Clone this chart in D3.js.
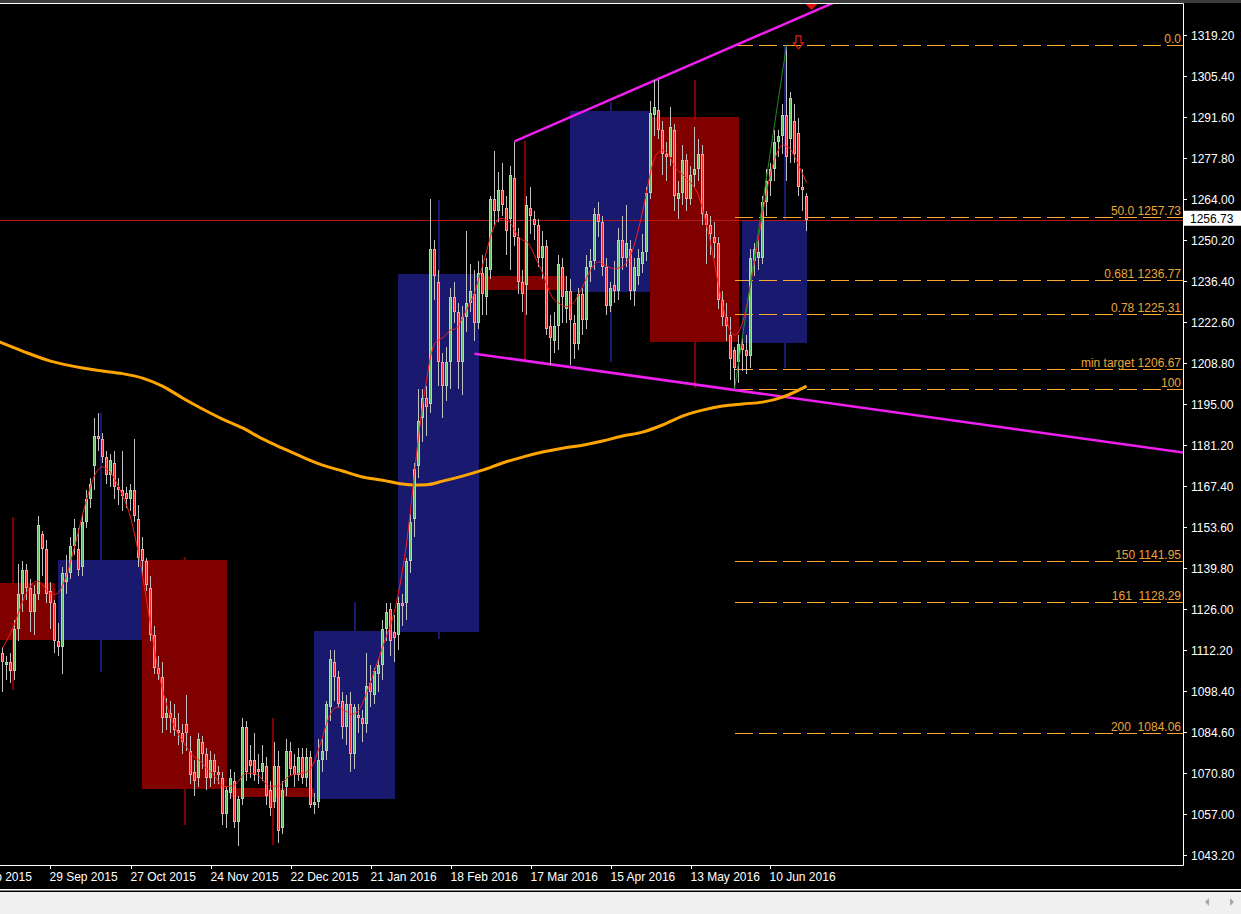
<!DOCTYPE html>
<html><head><meta charset="utf-8">
<script src="https://cdn.jsdelivr.net/npm/d3@7"></script>
<style>body{margin:0;background:#000;overflow:hidden}svg{display:block}text{font-family:"Liberation Sans",Arial,sans-serif;white-space:pre}</style>
</head><body>
<svg id="c" width="1241" height="914"></svg>
<script>
// ---------- DATA ----------
// daily XAUUSD bars: [date, open, high, low, close]
const dailyBars = [
["2015-09-11",1111,1113,1098,1108],["2015-09-14",1107,1110,1102,1108],["2015-09-15",1108,1111,1101,1105],
["2015-09-16",1105,1122,1102,1119],["2015-09-17",1119,1141,1115,1131],["2015-09-18",1131,1142,1125,1139],
["2015-09-21",1139,1141,1129,1133],["2015-09-22",1133,1136,1118,1125],["2015-09-23",1125,1134,1117,1131],
["2015-09-24",1131,1157,1129,1154],["2015-09-25",1151,1152,1137,1146],["2015-09-28",1146,1149,1128,1131],
["2015-09-29",1132,1135,1119,1128],["2015-09-30",1128,1129,1111,1115],
["2015-10-01",1115,1121,1110,1113],["2015-10-02",1113,1140,1104,1138],["2015-10-05",1135,1144,1131,1138],
["2015-10-06",1138,1150,1136,1147],["2015-10-07",1147,1156,1144,1153],["2015-10-08",1146,1153,1137,1139],
["2015-10-09",1140,1158,1137,1155],["2015-10-12",1155,1166,1153,1163],["2015-10-13",1163,1170,1160,1168],
["2015-10-14",1174,1190,1166,1184],["2015-10-15",1184,1192,1179,1183],["2015-10-16",1183,1185,1175,1177],
["2015-10-19",1177,1179,1168,1171],["2015-10-20",1171,1178,1167,1176],["2015-10-21",1175,1179,1163,1167],
["2015-10-22",1167,1170,1161,1166],["2015-10-23",1166,1179,1159,1164],["2015-10-26",1165,1167,1160,1163],
["2015-10-27",1163,1168,1159,1166],["2015-10-28",1166,1183,1155,1157],["2015-10-29",1156,1161,1140,1143],
["2015-10-30",1146,1150,1137,1142],
["2015-11-02",1142,1143,1132,1134],["2015-11-03",1133,1137,1115,1117],["2015-11-04",1117,1120,1104,1106],
["2015-11-05",1106,1110,1102,1104],["2015-11-06",1103,1108,1084,1089],["2015-11-09",1089,1096,1085,1091],
["2015-11-10",1091,1095,1084,1089],["2015-11-11",1089,1094,1083,1085],["2015-11-12",1085,1091,1080,1084],
["2015-11-13",1084,1087,1077,1081],["2015-11-16",1087,1097,1078,1084],["2015-11-17",1078,1083,1067,1070],
["2015-11-18",1071,1075,1063,1068],["2015-11-19",1069,1084,1066,1082],["2015-11-20",1081,1083,1072,1077],
["2015-11-23",1077,1079,1065,1069],["2015-11-24",1069,1078,1066,1075],["2015-11-25",1075,1077,1067,1071],
["2015-11-26",1071,1073,1067,1070],["2015-11-27",1069,1071,1053,1057],["2015-11-30",1057,1066,1052,1065],
["2015-12-01",1064,1072,1062,1069],["2015-12-02",1068,1071,1052,1054],["2015-12-03",1054,1063,1046,1062],
["2015-12-04",1062,1089,1060,1086],["2015-12-07",1086,1088,1068,1071],["2015-12-08",1075,1080,1069,1073],
["2015-12-09",1075,1084,1068,1070],["2015-12-10",1072,1077,1067,1071],["2015-12-11",1071,1080,1068,1074],
["2015-12-14",1073,1076,1060,1063],["2015-12-15",1065,1068,1056,1059],["2015-12-16",1061,1081,1059,1073],
["2015-12-17",1073,1078,1047,1051],["2015-12-18",1052,1068,1050,1065],["2015-12-21",1066,1082,1063,1078],
["2015-12-22",1078,1081,1070,1072],["2015-12-23",1073,1077,1066,1070],["2015-12-24",1070,1079,1068,1076],
["2015-12-28",1076,1079,1067,1069],["2015-12-29",1069,1079,1066,1076],["2015-12-30",1076,1078,1059,1060],
["2015-12-31",1060,1064,1057,1061],
["2016-01-04",1061,1082,1059,1075],["2016-01-05",1075,1082,1071,1078],["2016-01-06",1078,1095,1075,1094],
["2016-01-07",1093,1112,1088,1109],["2016-01-08",1108,1112,1095,1103],["2016-01-11",1103,1105,1093,1094],
["2016-01-12",1095,1098,1082,1086],["2016-01-13",1086,1097,1080,1094],["2016-01-14",1094,1098,1071,1077],
["2016-01-15",1077,1094,1072,1093],["2016-01-18",1090,1094,1084,1089],["2016-01-19",1089,1092,1081,1087],
["2016-01-20",1087,1111,1084,1100],["2016-01-21",1101,1107,1093,1098],["2016-01-22",1097,1106,1094,1105],
["2016-01-25",1104,1109,1098,1107],["2016-01-26",1107,1122,1102,1119],["2016-01-27",1119,1128,1115,1125],
["2016-01-28",1126,1128,1110,1115],["2016-01-29",1118,1124,1108,1116],
["2016-02-01",1117,1130,1112,1128],["2016-02-02",1128,1131,1120,1127],["2016-02-03",1128,1143,1122,1142],
["2016-02-04",1142,1158,1138,1155],["2016-02-05",1156,1175,1150,1173],["2016-02-08",1174,1200,1170,1189],
["2016-02-09",1190,1200,1182,1197],["2016-02-10",1197,1201,1184,1194],["2016-02-11",1195,1264,1192,1247],
["2016-02-12",1247,1250,1230,1238],["2016-02-15",1236,1240,1201,1209],["2016-02-16",1209,1212,1190,1201],
["2016-02-17",1201,1214,1196,1209],["2016-02-18",1209,1234,1200,1231],["2016-02-19",1231,1236,1222,1226],
["2016-02-22",1226,1229,1200,1209],["2016-02-23",1209,1228,1198,1224],["2016-02-24",1224,1253,1219,1229],
["2016-02-25",1229,1242,1226,1233],["2016-02-26",1232,1240,1216,1222],["2016-02-29",1222,1243,1220,1239],
["2016-03-01",1239,1245,1225,1232],["2016-03-02",1231,1244,1225,1241],["2016-03-03",1240,1265,1237,1264],
["2016-03-04",1264,1280,1255,1260],["2016-03-07",1260,1273,1256,1267],["2016-03-08",1267,1276,1258,1262],
["2016-03-09",1261,1265,1245,1253],["2016-03-10",1257,1275,1240,1272],["2016-03-11",1271,1283,1248,1251],
["2016-03-14",1251,1254,1232,1236],["2016-03-15",1236,1240,1226,1232],["2016-03-16",1235,1265,1225,1262],
["2016-03-17",1261,1268,1252,1258],["2016-03-18",1257,1260,1250,1255],["2016-03-21",1255,1257,1241,1244],
["2016-03-22",1244,1253,1237,1248],["2016-03-23",1248,1250,1218,1220],["2016-03-24",1221,1225,1208,1217],
["2016-03-28",1216,1226,1212,1221],["2016-03-29",1221,1245,1213,1242],["2016-03-30",1241,1244,1222,1231],
["2016-03-31",1227,1238,1222,1233],
["2016-04-01",1233,1237,1208,1223],["2016-04-04",1222,1225,1210,1215],["2016-04-05",1215,1234,1213,1232],
["2016-04-06",1232,1234,1218,1223],["2016-04-07",1223,1245,1220,1241],["2016-04-08",1241,1247,1236,1243],
["2016-04-11",1243,1261,1240,1259],["2016-04-12",1259,1263,1251,1256],["2016-04-13",1256,1258,1238,1241],
["2016-04-14",1241,1244,1225,1228],["2016-04-15",1228,1236,1226,1234],["2016-04-18",1235,1243,1229,1233],
["2016-04-19",1233,1254,1230,1250],["2016-04-20",1250,1258,1240,1244],["2016-04-21",1244,1262,1241,1249],
["2016-04-22",1247,1250,1230,1233],["2016-04-25",1233,1244,1228,1241],["2016-04-26",1238,1247,1235,1244],
["2016-04-27",1242,1252,1239,1246],["2016-04-28",1246,1268,1243,1266],["2016-04-29",1266,1297,1264,1293],
["2016-05-02",1292,1304,1285,1295],["2016-05-03",1294,1304,1284,1287],["2016-05-04",1287,1290,1272,1279],
["2016-05-05",1279,1283,1270,1278],["2016-05-06",1278,1295,1275,1288],["2016-05-09",1287,1289,1260,1265],
["2016-05-10",1264,1270,1257,1266],["2016-05-11",1266,1282,1262,1277],["2016-05-12",1277,1279,1260,1264],
["2016-05-13",1264,1275,1262,1272],["2016-05-16",1272,1288,1268,1274],["2016-05-17",1274,1284,1270,1279],
["2016-05-18",1279,1282,1255,1259],["2016-05-19",1259,1260,1242,1255],["2016-05-20",1255,1258,1245,1252],
["2016-05-23",1251,1256,1244,1249],["2016-05-24",1249,1251,1227,1230],["2016-05-25",1230,1233,1221,1224],
["2016-05-26",1224,1229,1216,1221],["2016-05-27",1218,1224,1203,1210],["2016-05-30",1213,1214,1200,1207],
["2016-05-31",1209,1218,1202,1215],
["2016-06-01",1215,1217,1206,1213],["2016-06-02",1213,1218,1205,1211],["2016-06-03",1211,1247,1207,1244],
["2016-06-06",1243,1249,1238,1247],["2016-06-07",1244,1250,1240,1246],["2016-06-08",1244,1265,1242,1263],
["2016-06-09",1263,1274,1258,1270],["2016-06-10",1270,1276,1265,1274],["2016-06-13",1274,1287,1270,1283],
["2016-06-14",1283,1287,1278,1285],["2016-06-15",1285,1296,1279,1292],["2016-06-16",1292,1315.6,1270,1278],
["2016-06-17",1284,1300,1276,1298],["2016-06-20",1290,1296,1276,1279],["2016-06-21",1286,1291,1265,1268],
["2016-06-22",1268,1274,1260,1267],["2016-06-23",1265,1266,1253,1256.73]
];
// monthly candles: [month, first bar date, last bar date, month end date, open, high, low, close]
const monthlyBars = [
["2015-09","2015-09-01","2015-09-30","2015-09-30",1134.6,1156.8,1098.5,1115.4],
["2015-10","2015-10-01","2015-10-30","2015-10-30",1115.4,1192.0,1104.6,1142.3],
["2015-11","2015-10-30","2015-11-30","2015-11-30",1142.3,1143.5,1053.0,1065.2],
["2015-12","2015-12-01","2015-12-31","2015-12-31",1065.6,1089.1,1046.3,1062.5],
["2016-01","2015-12-31","2016-01-29","2016-01-29",1061.8,1128.3,1071.0,1118.4],
["2016-02","2016-02-01","2016-02-29","2016-02-29",1118.0,1263.6,1115.6,1238.7],
["2016-03","2016-03-01","2016-03-31","2016-03-31",1237.9,1283.3,1209.7,1233.2],
["2016-04","2016-04-01","2016-04-29","2016-04-29",1232.7,1296.7,1209.1,1293.4],
["2016-05","2016-04-29","2016-05-31","2016-05-31",1291.5,1304.0,1200.2,1215.9],
["2016-06","2016-06-01","2016-06-23","2016-06-30",1215.3,1315.8,1206.9,1256.73]
];
// 200-period moving average
const ma200Samples = [
["2015-09-10",1215.9],["2015-09-18",1212.7],["2015-09-29",1209.3],["2015-10-09",1207.0],["2015-10-16",1206.0],
["2015-10-23",1205.1],["2015-10-30",1203.6],["2015-11-06",1200.9],["2015-11-13",1196.9],["2015-11-20",1193.2],
["2015-11-27",1189.8],["2015-12-04",1186.8],["2015-12-11",1183.1],["2015-12-18",1180.0],["2015-12-28",1177.0],
["2016-01-05",1174.3],["2016-01-12",1172.3],["2016-01-19",1170.3],["2016-01-26",1169.2],["2016-02-02",1167.9],
["2016-02-05",1167.6],["2016-02-10",1167.7],["2016-02-16",1168.9],["2016-02-23",1170.6],["2016-03-01",1172.6],
["2016-03-08",1175.0],["2016-03-15",1177.0],["2016-03-22",1178.7],["2016-03-30",1180.0],["2016-04-06",1181.0],
["2016-04-13",1182.4],["2016-04-20",1184.1],["2016-04-27",1185.4],["2016-05-04",1187.8],["2016-05-11",1190.8],
["2016-05-18",1192.8],["2016-05-25",1194.2],["2016-06-01",1194.9],["2016-06-08",1195.5],["2016-06-15",1197.2],
["2016-06-20",1198.9],["2016-06-23",1200.9]
];
const priceTicks = [1043.20,1057.00,1070.80,1084.60,1098.40,1112.20,1126.00,1139.80,1153.60,1167.40,1181.20,
  1195.00,1208.80,1222.60,1236.40,1250.20,1264.00,1277.80,1291.60,1305.40,1319.20];
const dateTicks = [["2015-09-01","1 Sep 2015"],["2015-09-29","29 Sep 2015"],["2015-10-27","27 Oct 2015"],
  ["2015-11-24","24 Nov 2015"],["2015-12-22","22 Dec 2015"],["2016-01-21","21 Jan 2016"],["2016-02-18","18 Feb 2016"],
  ["2016-03-17","17 Mar 2016"],["2016-04-15","15 Apr 2016"],["2016-05-13","13 May 2016"],["2016-06-10","10 Jun 2016"]];
const fibLevels = [
  ["0.0",1315.62],["50.0 1257.73",1257.73],["0.681 1236.77",1236.77],["0.78 1225.31",1225.31],
  ["min target 1206.67",1206.67],["100",1199.84],["150 1141.95",1141.95],["161  1128.29",1128.29],["200  1084.06",1084.06]];
const fibAnchor = [["2016-05-30",1199.84],["2016-06-16",1315.62]];
const upperTrend = [["2016-03-11",1283.3],["2016-06-23",1326.0]];
const lowerTrend = [["2016-02-26",1211.8],["2016-06-23",1196.2]];
const currentPrice = 1256.73;
const signalArrow = ["2016-06-21",1318.8];

// ---------- SETUP ----------
const W = 1241, H = 914, PR = 1183, PB = 865, PT = 3;
const idxByDate = new Map(dailyBars.map((d,i)=>[d[0],i]));
function dateIndex(s){
  if (idxByDate.has(s)) return idxByDate.get(s);
  const t = Date.parse(s+"T00:00:00Z");
  const first = Date.parse(dailyBars[0][0]+"T00:00:00Z");
  const last = Date.parse(dailyBars[dailyBars.length-1][0]+"T00:00:00Z");
  let cur, idx, step;
  if (t < first){cur=first; idx=0; step=-1;} else {cur=last; idx=dailyBars.length-1; step=1;}
  while ((step<0 && cur>t) || (step>0 && cur<t)){
    cur += step*86400000; const wd = new Date(cur).getUTCDay();
    if (wd!==0 && wd!==6) idx += step;
  }
  return idx;
}
const x = d3.scaleLinear().domain([0, dailyBars.length-1]).range([2.5, 2.5+4*(dailyBars.length-1)]);
const y = d3.scaleLinear().domain([1043.2, 1319.2]).range([854.5, 34.7]);
const xd = s => x(dateIndex(s));

const svg = d3.select("#c");
svg.append("rect").attr("width",W).attr("height",H).attr("fill","#000");
svg.append("rect").attr("width",W).attr("height",3).attr("fill","#3c3c3c");
svg.append("defs").append("clipPath").attr("id","clip").append("rect")
  .attr("x",0).attr("y",PT+1).attr("width",PR).attr("height",PB-PT-1);
const g = svg.append("g").attr("clip-path","url(#clip)");

// monthly candles
const mg = g.append("g").attr("shape-rendering","crispEdges");
monthlyBars.forEach(m=>{
  const [lab,f,l,e,o,h,lo,c] = m;
  const col = c>=o ? "#191970" : "#800000";
  const xm = (xd(f)+xd(e))/2;
  mg.append("rect").attr("x",Math.round(xm)-1).attr("width",2).attr("y",y(h)).attr("height",y(lo)-y(h)).attr("fill",col);
  const x0 = xd(f)-0.5, x1 = xd(l)+0.5;
  mg.append("rect").attr("x",x0).attr("width",x1-x0).attr("y",y(Math.max(o,c)))
    .attr("height",Math.max(1,Math.abs(y(o)-y(c)))).attr("fill",col);
});

// current price line
g.append("line").attr("x1",0).attr("x2",PR).attr("y1",Math.round(y(currentPrice))+0.5).attr("y2",Math.round(y(currentPrice))+0.5)
  .attr("stroke","#c01414").attr("stroke-width",1).attr("shape-rendering","crispEdges");

// fib levels
const fx0 = xd(fibAnchor[0][0]);
fibLevels.forEach(([lab,v])=>{
  const yy = Math.round(y(v))+0.5;
  g.append("line").attr("x1",fx0).attr("x2",PR).attr("y1",yy).attr("y2",yy)
    .attr("stroke","#ffa630").attr("stroke-width",1).attr("stroke-dasharray","18,6").attr("shape-rendering","crispEdges");
  svg.append("text").attr("x",1181).attr("y",yy-2.5).attr("text-anchor","end").attr("font-size",12)
    .attr("fill","#eba43a").text(lab);
});

// trend lines (rays)
function ray(pts){
  const x1=xd(pts[0][0]), y1=y(pts[0][1]), x2=xd(pts[1][0]), y2=y(pts[1][1]);
  const k=(y2-y1)/(x2-x1);
  g.append("line").attr("x1",x1).attr("y1",y1).attr("x2",PR+10).attr("y2",y1+k*(PR+10-x1))
    .attr("stroke","#f01ef0").attr("stroke-width",2.5);
}
ray(upperTrend); ray(lowerTrend);

// MA200
g.append("path").datum(ma200Samples).attr("fill","none").attr("stroke","#ffa500").attr("stroke-width",3)
  .attr("d", d3.line().x(d=>xd(d[0])).y(d=>y(d[1])).curve(d3.curveMonotoneX));

// daily candles
const cg = g.append("g").attr("shape-rendering","crispEdges");
dailyBars.forEach((d,i)=>{
  const [dt,o,h,l,c] = d; const cx = x(i); const bull = c>=o;
  cg.append("line").attr("x1",cx).attr("x2",cx).attr("y1",y(h)).attr("y2",y(l)).attr("stroke","#c0c0c0");
  const top = Math.round(y(Math.max(o,c))), bot = Math.round(y(Math.min(o,c)));
  const hh = Math.max(1, bot-top);
  cg.append("rect").attr("x",cx-1.5).attr("width",3).attr("y",top).attr("height",hh)
    .attr("fill", bull ? "#b4d6b4" : "#f2a6a6");
  if (hh>2) cg.append("rect").attr("x",cx-0.5).attr("width",1).attr("y",top+1).attr("height",hh-2)
    .attr("fill", bull ? "#62b862" : "#ee2c2c");
});

// centered triangular MA of closes (indicator)
const closes = dailyBars.map(d=>d[4]); const half = 5;
const tma = closes.map((_,i)=>{let s=0,w=0;for(let k=-half;k<=half;k++){const j=i+k;if(j<0||j>=closes.length)continue;const wt=half+1-Math.abs(k);s+=closes[j]*wt;w+=wt;}return s/w;});
g.append("path").datum(tma).attr("fill","none").attr("stroke","#ff1e1e").attr("stroke-width",1)
  .attr("d", d3.line().x((d,i)=>x(i)).y(d=>y(d)).curve(d3.curveMonotoneX));

// fib anchor line
g.append("line").attr("x1",xd(fibAnchor[0][0])).attr("y1",y(fibAnchor[0][1]))
  .attr("x2",xd(fibAnchor[1][0])).attr("y2",y(fibAnchor[1][1])).attr("stroke","#1f8a1f").attr("stroke-width",1);

// signal arrow (hollow down arrow)
{
  const ax = xd(signalArrow[0]), ay = y(signalArrow[1]);
  const p = `M${ax-2.5},${ay} L${ax+2.5},${ay} L${ax+2.5},${ay+7} L${ax+5},${ay+7} L${ax},${ay+13} L${ax-5},${ay+7} L${ax-2.5},${ay+7} Z`;
  g.append("path").attr("d",p).attr("fill","none").attr("stroke","#e01e1e").attr("stroke-width",1.2);
}

// frame
svg.append("path").attr("d",`M0,${PT+0.5} H${PR+0.5} V${PB+0.5} H0`).attr("fill","none").attr("stroke","#fff").attr("stroke-width",1);
// chart shift marker
{
  const sx = x(dailyBars.length-1)+5;
  svg.append("path").attr("d",`M${sx-6},4 L${sx+6},4 L${sx},10 Z`).attr("fill","#e01010");
}

// price axis
priceTicks.forEach(v=>{
  const yy = Math.round(y(v))+0.5;
  svg.append("line").attr("x1",PR).attr("x2",PR+4).attr("y1",yy).attr("y2",yy).attr("stroke","#fff");
  svg.append("text").attr("x",1191).attr("y",yy+4.5).attr("font-size",12).attr("fill","#fff").text(v.toFixed(2));
});
// current price label
{
  const yy = y(currentPrice) - 1;
  svg.append("rect").attr("x",PR+1).attr("y",yy-8.5).attr("width",W-PR-1).attr("height",15).attr("fill","#fff");
  svg.append("text").attr("x",1190).attr("y",yy+3.5).attr("font-size",12).attr("fill","#000").text(currentPrice.toFixed(2));
}
// time axis
dateTicks.forEach(([d,lab])=>{
  const tx = Math.round(xd(d))+0.5;
  svg.append("line").attr("x1",tx).attr("x2",tx).attr("y1",PB).attr("y2",PB+4).attr("stroke","#fff");
  svg.append("text").attr("x",tx-1).attr("y",880.5).attr("font-size",12).attr("fill","#fff").text(lab);
});

// bottom scrollbar area
svg.append("rect").attr("x",0).attr("y",889).attr("width",W).attr("height",1.5).attr("fill","#fff");
svg.append("rect").attr("x",0).attr("y",892).attr("width",W).attr("height",22).attr("fill","#f0f0f0");
svg.append("path").attr("d","M1209,898 L1205,902 L1209,906 Z").attr("fill","#a8a8a8");
svg.append("path").attr("d","M1230,898 L1234,902 L1230,906 Z").attr("fill","#a8a8a8");
</script>
</body></html>
